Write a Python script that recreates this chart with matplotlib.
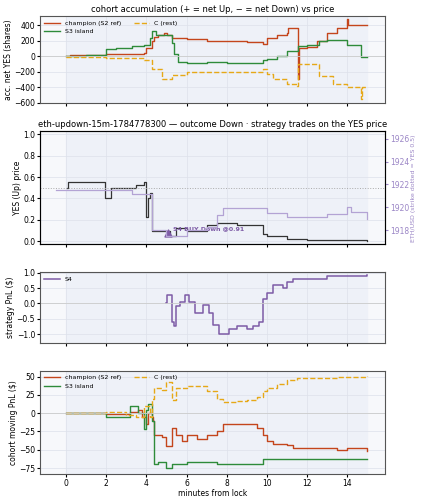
import matplotlib
matplotlib.use("Agg")
import matplotlib.pyplot as plt

# --- data ---
acc_champ_t = [0,0.2,2,3.9,4.0,4.3,4.4,4.6,4.9,5.05,5.3,6,7,8,9,9.8,10,10.5,11,11.05,11.5,11.55,11.6,12,12.5,13,13.5,13.9,14.0,14.05,15]
acc_champ_v = [0,20,30,40,100,200,250,280,300,270,230,220,200,195,190,160,230,280,300,370,370,-300,100,120,200,300,370,370,480,400,400]
acc_s3_t = [0,1,2,2.5,3,3.3,3.9,4.2,4.3,4.5,4.9,5.3,5.4,5.6,6,7,8,9,9.8,10,10.5,11,11.55,12,12.6,13,14,14.7,15]
acc_s3_v = [0,10,90,100,110,130,150,230,330,280,270,170,30,-70,-90,-80,-85,-90,-50,-40,0,70,130,150,200,210,150,-10,-10]
acc_c_t = [0,2,3.9,4.3,4.8,5.3,6,8.3,9.8,10,10.3,11,11.5,11.55,11.6,12.6,13.3,14,14.7,14.75,15]
acc_c_v = [-10,-20,-50,-160,-300,-240,-210,-200,-160,-230,-290,-360,-380,-100,-100,-250,-360,-400,-560,-400,-400]

yes_t = [0.05,0.1,1.95,2.25,3.5,3.9,4.0,4.1,4.2,4.3,5,5.2,5.5,6,7,7.5,8.5,9.8,10,11,12,15]
yes_v = [0.5,0.55,0.4,0.5,0.53,0.55,0.23,0.4,0.45,0.1,0.1,0.05,0.12,0.1,0.15,0.17,0.15,0.07,0.05,0.02,0.01,0.0]
eth_t = [-0.5,0,3.3,4.3,5,6,7,7.5,7.8,9.5,10,11,13,14,14.2,15]
eth_v = [1921.5,1921.5,1921.2,1918,1917.5,1918,1918.3,1919.3,1919.9,1919.9,1919.5,1919.1,1919.4,1920.0,1919.6,1919.0]
trade_t = [5.1]
trade_p = [0.08]

s4_t = [5,5.05,5.3,5.4,5.5,5.7,5.9,6.1,6.4,6.8,7.1,7.3,7.6,8.1,8.5,9,9.3,9.6,9.8,10,10.3,10.8,11,11.3,12,13,15]
s4_v = [0,0.27,-0.6,-0.75,-0.1,0.05,0.27,0.05,-0.3,-0.05,-0.3,-0.7,-1.0,-0.85,-0.75,-0.85,-0.75,-0.6,0.15,0.35,0.6,0.5,0.7,0.8,0.8,0.9,0.92]

pnl_champ_t = [0,2,3.2,3.6,3.8,4,4.1,4.3,4.35,4.4,4.8,5,5.3,5.5,5.8,6,6.5,7,7.5,7.8,9,9.5,9.8,10,10.3,11,11.3,13,13.5,14,15]
pnl_champ_v = [0,-1,2,5,-5,-15,0,-5,-10,-30,-33,-45,-20,-30,-38,-30,-35,-30,-25,-15,-15,-20,-30,-38,-42,-43,-48,-48,-50,-48,-51]
pnl_s3_t = [0,2,3.2,3.6,3.9,4,4.1,4.3,4.4,4.6,5,5.3,6,7,7.5,9.5,9.8,10,12,15]
pnl_s3_v = [0,-5,10,0,-22,5,12,-10,-70,-67,-75,-70,-66,-66,-70,-70,-63,-62,-62,-63]
pnl_c_t = [0,2,3,3.5,3.9,4.2,4.3,4.4,4.8,5,5.3,5.5,6,7,7.5,7.8,8.5,9,9.5,9.8,10,10.5,11,11.5,13,13.5,15]
pnl_c_v = [0,1,-2,-5,10,-5,20,35,32,42,18,35,37,30,20,15,17,18,22,30,35,40,45,48,48,50,51]

C_CH, C_S3, C_C, C_P = "#c4451c", "#2e8b3a", "#e6a817", "#7d5ba6"
FS = 5.5

fig = plt.figure(figsize=(4.21, 5.0), dpi=100)
gs = fig.add_gridspec(4, 1, height_ratios=[93, 120, 75, 110], left=0.095, right=0.915, top=0.968, bottom=0.052, hspace=0.3)
axes = [fig.add_subplot(gs[i]) for i in range(4)]
for ax in axes:
    ax.set_facecolor("#f7f8fb")
    ax.axvspan(0, 15, color="#eef1f8", zorder=0)
    ax.set_xlim(-1.3, 15.9)
    ax.grid(True, color="#dde1ea", lw=0.5)
    ax.tick_params(labelsize=FS, length=2, pad=1.5)
    for s in ax.spines.values():
        s.set_color("#555")
    ax.set_xticks([0, 2, 4, 6, 8, 10, 12, 14])
for ax in axes[:3]:
    ax.set_xticklabels([])

ax = axes[0]
ax.step(acc_champ_t, acc_champ_v, where="post", color=C_CH, lw=1, label="champion (S2 ref)")
ax.step(acc_s3_t, acc_s3_v, where="post", color=C_S3, lw=1, label="S3 island")
ax.step(acc_c_t, acc_c_v, where="post", color=C_C, lw=1, ls="--", label="C (rest)")
ax.axhline(0, color="#ccc", lw=0.6)
ax.set_ylim(-610, 520)
ax.set_yticks([-600, -400, -200, 0, 200, 400])
ax.set_ylabel("acc. net YES (shares)", fontsize=FS, labelpad=1)
ax.set_title("cohort accumulation (+ = net Up, − = net Down) vs price", fontsize=6, pad=3)
ax.legend(loc="upper left", ncol=2, fontsize=4.5, frameon=False, handlelength=2.5, borderaxespad=0.3)

ax = axes[1]
ax.step(yes_t, yes_v, where="post", color="#333", lw=0.9)
ax.axhline(0.5, color="#aaa", lw=0.7, ls=":")
ax.scatter(trade_t, trade_p, marker="^", color=C_P, s=25, zorder=5)
ax.annotate("S4 BUY Down @0.91", (trade_t[0], trade_p[0]), xytext=(3, 2), textcoords="offset points",
            fontsize=4.5, color=C_P, fontweight="bold")
ax.set_ylim(-0.027, 1.027)
ax.set_yticks([0, 0.2, 0.4, 0.6, 0.8, 1.0])
ax.set_ylabel("YES (Up) price", fontsize=FS, labelpad=1)
ax.set_title("eth-updown-15m-1784778300 — outcome Down · strategy trades on the YES price", fontsize=6, pad=3)
ax2 = ax.twinx()
ax2.step(eth_t, eth_v, where="post", color="#b3a3d4", lw=0.9)
ax2.set_ylim(1916.76, 1926.66)
ax2.set_yticks([1918, 1920, 1922, 1924, 1926])
ax2.tick_params(labelsize=FS, length=2, pad=1.5, colors="#9b86c6")
ax2.set_ylabel("ETH/USD (strike dotted = YES 0.5)", fontsize=4.5, color="#9b86c6", labelpad=1)

ax = axes[2]
ax.step(s4_t, s4_v, where="post", color=C_P, lw=1.1, label="S4")
ax.axhline(0, color="#ccc", lw=0.6)
ax.set_ylim(-1.28, 1.02)
ax.set_yticks([-1.0, -0.5, 0.0, 0.5, 1.0])
ax.set_ylabel("strategy PnL ($)", fontsize=FS, labelpad=1)
ax.legend(loc="upper left", fontsize=4.5, frameon=False, handlelength=2.5, borderaxespad=0.3)

ax = axes[3]
ax.step(pnl_champ_t, pnl_champ_v, where="post", color=C_CH, lw=1, label="champion (S2 ref)")
ax.step(pnl_s3_t, pnl_s3_v, where="post", color=C_S3, lw=1, label="S3 island")
ax.step(pnl_c_t, pnl_c_v, where="post", color=C_C, lw=1, ls="--", label="C (rest)")
ax.axhline(0, color="#ccc", lw=0.6)
ax.set_ylim(-83, 58)
ax.set_yticks([-75, -50, -25, 0, 25, 50])
ax.set_ylabel("cohort moving PnL ($)", fontsize=FS, labelpad=1)
ax.set_xlabel("minutes from lock", fontsize=FS, labelpad=1)
ax.legend(loc="upper left", ncol=2, fontsize=4.5, frameon=False, handlelength=2.5, borderaxespad=0.3)

fig.savefig("out.png", dpi=100)
